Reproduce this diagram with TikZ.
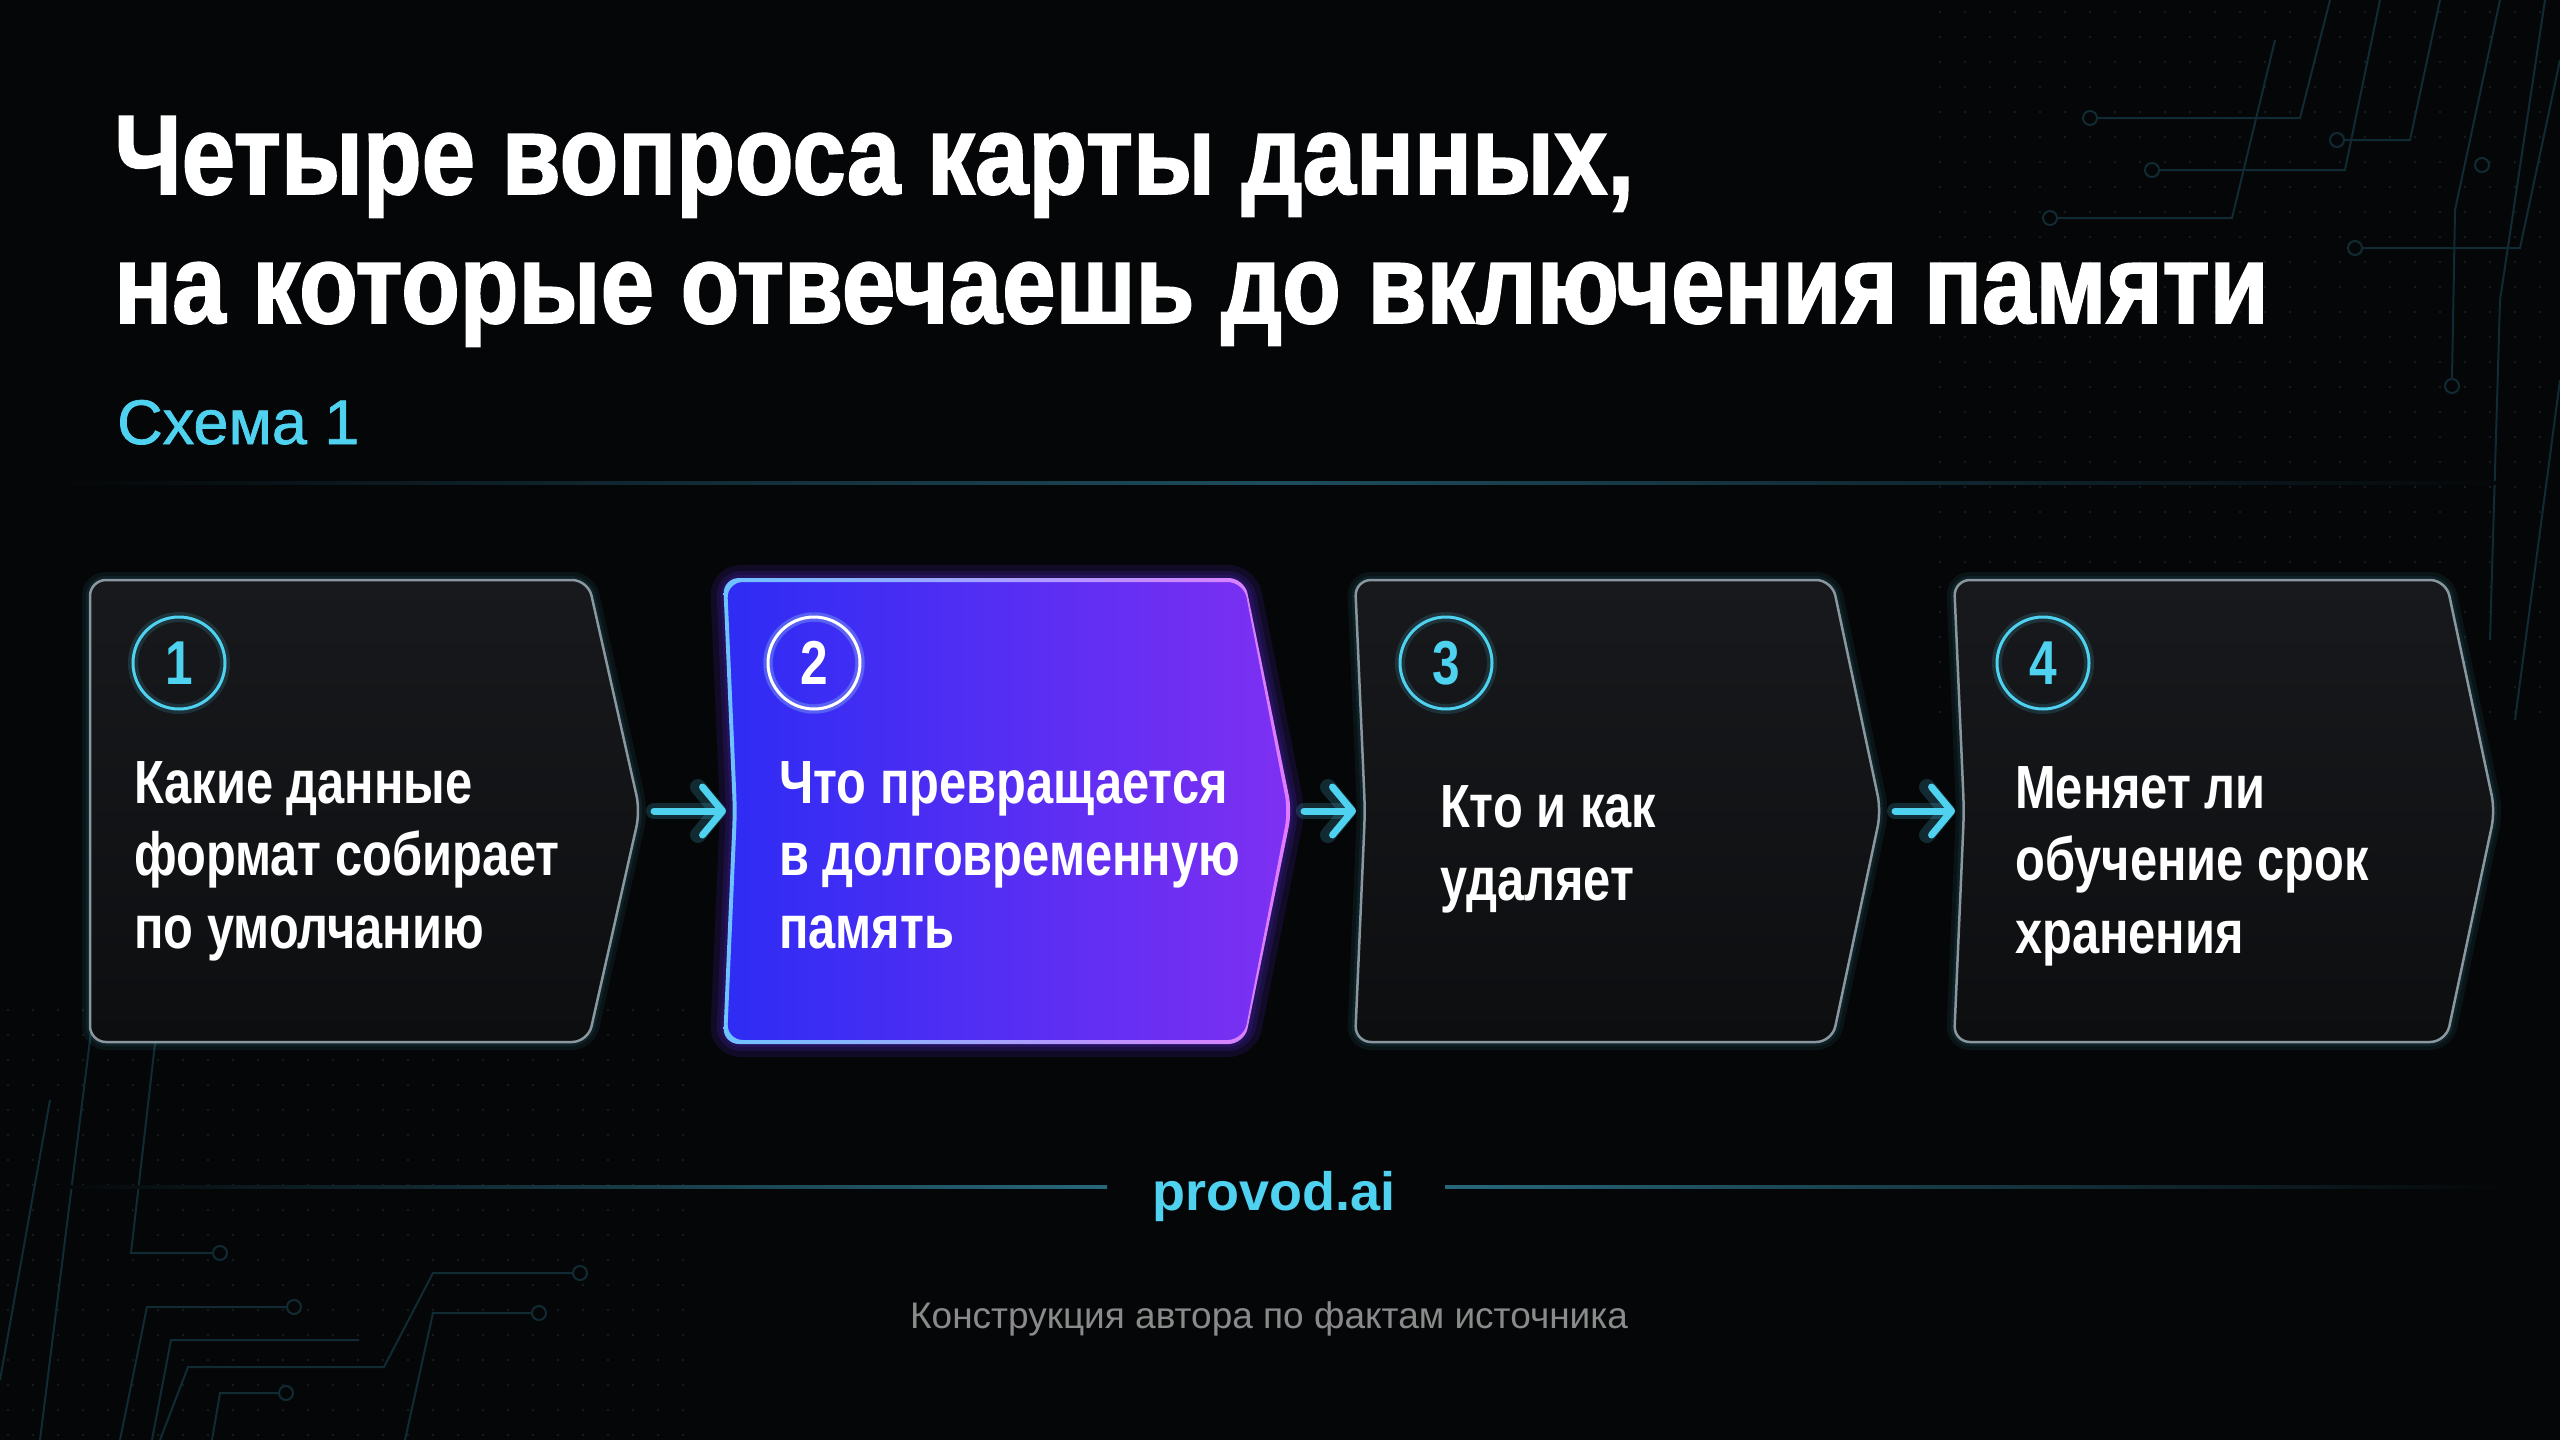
\documentclass[tikz,border=0pt]{standalone}
\usepackage{fontspec}
\setmainfont{Liberation Sans}
\newfontfamily\headfont[FakeStretch=0.85,FakeBold=1.5]{Liberation Sans}
\newfontfamily\cardfont[FakeStretch=0.8]{Liberation Sans}
\newfontfamily\tagfont[FakeBold=1.2]{Liberation Sans}
\usetikzlibrary{arrows.meta,calc}
\definecolor{bg}{HTML}{050607}
\definecolor{cyan}{HTML}{4FD1F0}
\definecolor{cyandim}{HTML}{1E4D5E}
\definecolor{cardtop}{HTML}{17191C}
\definecolor{cardbot}{HTML}{0D0E10}
\definecolor{cardedge}{HTML}{8A979F}
\definecolor{hotL}{HTML}{2E2CF4}
\definecolor{hotR}{HTML}{7E30F2}
\definecolor{hotedgeL}{HTML}{6EC3FF}
\definecolor{hotedgeR}{HTML}{E27BFF}
\definecolor{muted}{HTML}{8A8A8A}
\definecolor{tracec}{HTML}{112B34}
\definecolor{dotc}{HTML}{131E24}
\tikzset{
  cardpath/.style n args={5}{insert path={
    ({#1-(#5)},{580-(#5)}) -- ({#2+0.2*(#5)},{580-(#5)}) -- ({#3+(#5)},811)
    -- ({#2+0.2*(#5)},{1042+(#5)}) -- ({#1-(#5)},{1042+(#5)}) -- ({#1+#4-(#5)},811) -- cycle}},
  card/.style={rounded corners=16pt},
  cardglow/.style={rounded corners=16pt, draw=cyan, line width=#1, opacity=0.07},
  hotglow/.style={rounded corners=16pt, draw=hotR!60!hotL, line width=#1, opacity=0.14},
  num/.style={circle, draw=cyan, line width=3pt, minimum size=92pt, inner sep=0pt, text=cyan,
    font=\cardfont\bfseries\fontsize{62}{62}\selectfont,
    preaction={draw=cyan, line width=10pt, opacity=0.15}},
  numhot/.style={num, draw=white, text=white, preaction={draw=white, line width=9pt, opacity=0.15}},
  qtext/.style={anchor=base west, inner sep=0pt, align=left, text=white,
    font=\cardfont\bfseries\fontsize{61}{72.5}\selectfont},
  flow/.style={draw=cyan, line width=7pt, line cap=round, shorten <=14pt, shorten >=9pt,
    -{Straight Barb[round, length=20pt, width=48pt]}},
  flowglow/.style={flow, line width=16pt, opacity=0.18},
  trace/.style={draw=tracec, line width=2pt},
  pad/.style={draw=tracec, line width=2pt, fill=bg},
}
\begin{document}
\begin{tikzpicture}[x=1pt,y=-1pt]
\useasboundingbox (0,0) rectangle (2560,1440);
\fill[bg] (0,0) rectangle (2560,1440);

% circuit background
\foreach \x in {1940,1965,...,2555}
  \foreach \y in {12,37,...,712}
    \fill[dotc] (\x,\y) circle (1.4);
\foreach \x in {8,33,...,700}
  \foreach \y in {1010,1035,...,1435}
    \fill[dotc] (\x,\y) circle (1.4);
\draw[trace] (2440,0) -- (2410,140) -- (2345,140);
\draw[trace] (2500,0) -- (2455,210) -- (2452,378);
\draw[trace] (2380,0) -- (2345,170) -- (2160,170);
\draw[trace] (2330,0) -- (2300,118) -- (2098,118);
\draw[trace] (2560,60) -- (2520,248) -- (2363,248);
\draw[trace] (2275,40) -- (2232,218) -- (2058,218);
\draw[trace] (2560,380) -- (2515,720);
\draw[trace] (2545,0) -- (2500,300) -- (2490,640);
\foreach \p in {(2337,140),(2452,386),(2152,170),(2090,118),(2355,248),(2050,218),(2482,165)}
  \draw[pad] \p circle (7);
\draw[trace] (160,1000) -- (131,1253) -- (212,1253);
\draw[trace] (572,1273) -- (433,1273) -- (384,1367) -- (188,1367) -- (160,1440);
\draw[trace] (286,1307) -- (147,1307) -- (120,1440);
\draw[trace] (531,1313) -- (433,1313) -- (405,1440);
\draw[trace] (359,1340) -- (171,1340) -- (152,1440);
\draw[trace] (278,1393) -- (220,1393) -- (212,1440);
\draw[trace] (95,1000) -- (40,1440);
\draw[trace] (50,1100) -- (0,1380);
\foreach \p in {(220,1253),(580,1273),(294,1307),(539,1313),(286,1393)}
  \draw[pad] \p circle (7);

% rules
\shade[left color=bg, right color=bg, middle color=cyandim] (49,481.5) rectangle (2515,484.5);
\shade[left color=bg, right color=cyandim!80!cyan] (49,1185.5) rectangle (1107,1188.5);
\shade[left color=cyandim!80!cyan, right color=bg] (1445,1185.5) rectangle (2510,1188.5);

% heading
\node[anchor=base west, inner sep=0pt, align=left, text=white,
  font=\headfont\bfseries\fontsize{113}{129}\selectfont] (title) at (114,323)
  {Четыре вопроса карты данных,\\на которые отвечаешь до включения памяти};
\node[anchor=base west, inner sep=0pt, text=cyan, font=\tagfont\fontsize{63}{63}\selectfont]
  (scheme) at (117,444) {Схема 1};

% cards
\foreach \i/\L/\R/\T/\N in {1/90/588/640/0, 3/1355/1832/1881/10, 4/1954/2446/2495/10} {
  \draw[cardglow=16pt, cardpath={\L}{\R}{\T}{\N}{0}];
  \draw[cardglow=8pt, cardpath={\L}{\R}{\T}{\N}{0}];
  \shade[card, top color=cardtop, bottom color=cardbot, cardpath={\L}{\R}{\T}{\N}{0}];
  \draw[card, draw=cardedge, line width=2.5pt, cardpath={\L}{\R}{\T}{\N}{0}];
  \coordinate (tip\i) at (\T,811);
  \coordinate (in\i) at ({\L+\N},811);
}
\draw[hotglow=30pt, cardpath={725}{1244}{1290}{10}{0}];
\draw[hotglow=18pt, cardpath={725}{1244}{1290}{10}{0}];
\draw[hotglow=10pt, cardpath={725}{1244}{1290}{10}{0}];
\shade[card, left color=hotL, right color=hotR, cardpath={725}{1244}{1290}{10}{0}];
\shade[card, left color=hotedgeL, right color=hotedgeR, even odd rule,
  cardpath={725}{1244}{1290}{10}{2}, cardpath={725}{1244}{1290}{10}{-2}];
\coordinate (tip2) at (1290,811);
\coordinate (in2) at (735,811);

% numbers
\node[num] (n1) at (179,663) {1};
\node[numhot] (n2) at (814,663) {2};
\node[num] (n3) at (1446,663) {3};
\node[num] (n4) at (2043,663) {4};

% questions
\node[qtext] (q1) at (134,948) {Какие данные\\формат собирает\\по умолчанию};
\node[qtext] (q2) at (779,948) {Что превращается\\в долговременную\\память};
\node[qtext] (q3) at (1440,900) {Кто и как\\удаляет};
\node[qtext] (q4) at (2015,953) {Меняет ли\\обучение срок\\хранения};

% arrows
\foreach \a/\b in {1/2,2/3,3/4} {
  \draw[flowglow] (tip\a) -- (in\b);
  \draw[flow] (tip\a) -- (in\b);
}

% footer
\node[anchor=base, inner sep=0pt, text=cyan, font=\bfseries\fontsize{54}{54}\selectfont]
  (brand) at (1274,1210) {provod.ai};
\node[anchor=base, inner sep=0pt, text=muted, font=\fontsize{37}{37}\selectfont]
  (source) at (1269,1328) {Конструкция автора по фактам источника};
\end{tikzpicture}
\end{document}
